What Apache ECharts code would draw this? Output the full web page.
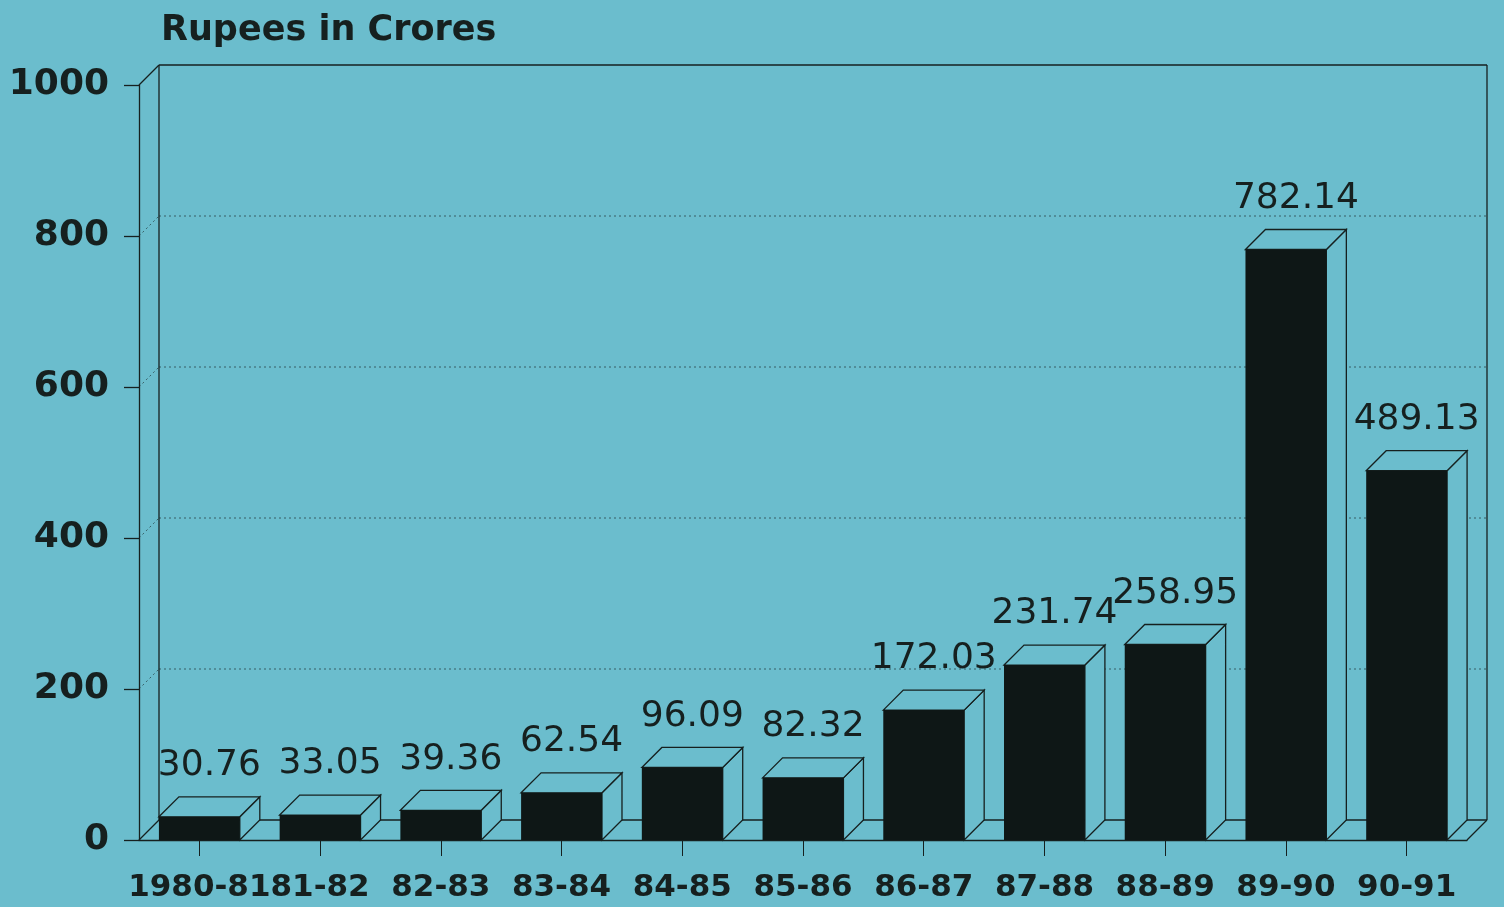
<!DOCTYPE html>
<html>
<head>
<meta charset="utf-8">
<script src="https://cdn.jsdelivr.net/npm/echarts@6/dist/echarts.min.js"></script>
<style>
  html, body { margin: 0; padding: 0; background: #6bbdcd; }
  #chart { width: 1504px; height: 907px; }
</style>
</head>
<body>
<div id="chart"></div>
<script>
// Fiscal years and amounts (Rupees in crores)
const years = ['1980-81', '81-82', '82-83', '83-84', '84-85', '85-86', '86-87', '87-88', '88-89', '89-90', '90-91'];
const crores = [30.76, 33.05, 39.36, 62.54, 96.09, 82.32, 172.03, 231.74, 258.95, 782.14, 489.13];
const yTicks = [0, 200, 400, 600, 800, 1000];

const BG = '#6bbdcd';
const INK = '#16201f';
const BAR = '#0e1716';
const DEPTH = 20; // oblique offset of the 3D box

// Back wall, floor and gridlines of the pseudo-3D frame
function renderFrame(params, api) {
  const cs = params.coordSys;
  const v = api.value(1);
  const y = api.coord([0, v])[1];
  const xl = cs.x, xr = cs.x + cs.width, d = DEPTH;
  const children = [];
  if (v === 0) {
    children.push(
      { type: 'line', shape: { x1: xl + d, y1: y - d, x2: xr + d, y2: y - d }, style: { stroke: INK, lineWidth: 1.3 } },
      { type: 'line', shape: { x1: xl, y1: y, x2: xl + d, y2: y - d }, style: { stroke: INK, lineWidth: 1.3 } },
      { type: 'line', shape: { x1: xr, y1: y, x2: xr + d, y2: y - d }, style: { stroke: INK, lineWidth: 1.3 } }
    );
  } else if (v === 1000) {
    const y0 = api.coord([0, 0])[1];
    children.push(
      { type: 'line', shape: { x1: xl + d, y1: y - d, x2: xr + d, y2: y - d }, style: { stroke: INK, lineWidth: 1.5 } },
      { type: 'line', shape: { x1: xl, y1: y, x2: xl + d, y2: y - d }, style: { stroke: INK, lineWidth: 1.3 } },
      { type: 'line', shape: { x1: xl + d, y1: y - d, x2: xl + d, y2: y0 - d }, style: { stroke: INK, lineWidth: 1.3 } },
      { type: 'line', shape: { x1: xr + d, y1: y - d, x2: xr + d, y2: y0 - d }, style: { stroke: INK, lineWidth: 1.3 } }
    );
  } else {
    children.push(
      { type: 'line', shape: { x1: xl + d, y1: y - d, x2: xr + d, y2: y - d }, style: { stroke: INK, lineWidth: 1, lineDash: [2, 3], opacity: 0.6 } },
      { type: 'line', shape: { x1: xl, y1: y, x2: xl + d, y2: y - d }, style: { stroke: INK, lineWidth: 1, lineDash: [2, 3], opacity: 0.6 } }
    );
  }
  return { type: 'group', children: children };
}

// Solid front face with outlined top and side faces, value above
function renderBar(params, api) {
  const top = api.coord([api.value(0), api.value(1)]);
  const base = api.coord([api.value(0), 0]);
  const w = api.size([1, 0])[0] * 0.67;
  const x0 = top[0] - w / 2, x1 = top[0] + w / 2;
  const yt = top[1], yb = base[1], d = DEPTH;
  return {
    type: 'group',
    children: [
      { type: 'polygon', shape: { points: [[x1, yb], [x1 + d, yb - d], [x1 + d, yt - d], [x1, yt]] },
        style: { fill: BG, stroke: INK, lineWidth: 1.3 } },
      { type: 'polygon', shape: { points: [[x0, yt], [x0 + d, yt - d], [x1 + d, yt - d], [x1, yt]] },
        style: { fill: BG, stroke: INK, lineWidth: 1.3 } },
      { type: 'rect', shape: { x: x0, y: yt, width: w, height: yb - yt }, style: { fill: BAR } },
      { type: 'text', style: {
          text: api.value(1).toFixed(2), x: top[0] + d / 2, y: yt - d - 31,
          align: 'center', verticalAlign: 'middle',
          fontFamily: 'DejaVu Sans', fontSize: 36, fill: INK } }
    ]
  };
}

const chart = echarts.init(document.getElementById('chart'), null, { renderer: 'canvas' });
chart.setOption({
  backgroundColor: BG,
  animation: false,
  title: {
    text: 'Rupees in Crores', left: 156, top: 8,
    textStyle: { fontFamily: 'DejaVu Sans', fontWeight: 'bold', fontSize: 35, color: INK }
  },
  grid: { left: 139, right: 37, top: 85, bottom: 67 },
  xAxis: {
    type: 'category', data: years, boundaryGap: true,
    axisLine: { show: true, lineStyle: { color: INK, width: 1.3 } },
    axisTick: { show: true, alignWithLabel: true, length: 16, lineStyle: { color: INK, width: 1 } },
    axisLabel: { interval: 0, margin: 32, fontFamily: 'DejaVu Sans', fontWeight: 'bold', fontSize: 31, color: INK },
    splitLine: { show: false }
  },
  yAxis: {
    type: 'value', min: 0, max: 1000, interval: 200,
    axisLine: { show: true, lineStyle: { color: INK, width: 1.3 } },
    axisTick: { show: true, length: 15, lineStyle: { color: INK, width: 1.3 } },
    axisLabel: { margin: 30, fontFamily: 'DejaVu Sans', fontWeight: 'bold', fontSize: 36, color: INK,
                 formatter: v => String(v) },
    splitLine: { show: false }
  },
  series: [
    {
      type: 'custom', name: 'frame', z: 1, silent: true,
      renderItem: renderFrame,
      data: yTicks.map(v => [0, v]),
      encode: { x: 0, y: 1 }
    },
    {
      type: 'custom', name: 'amount', z: 3,
      renderItem: renderBar,
      data: years.map((y, i) => [i, crores[i]]),
      encode: { x: 0, y: 1 }
    }
  ]
});
</script>
</body>
</html>
